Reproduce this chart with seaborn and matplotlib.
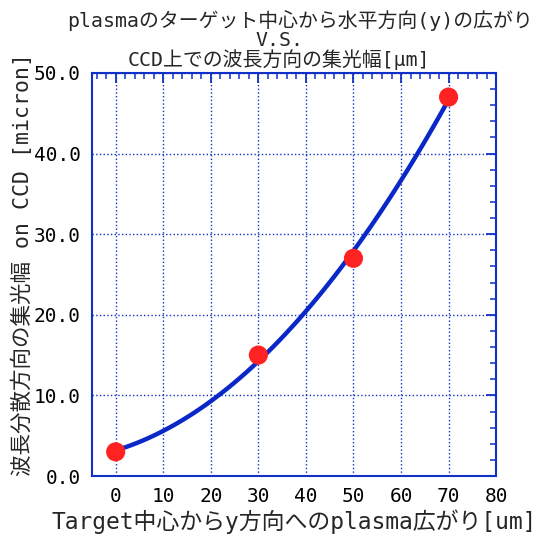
import matplotlib
matplotlib.use("Agg")
import matplotlib.pyplot as plt
import numpy as np
import pandas as pd
import seaborn as sns
from matplotlib.ticker import MultipleLocator

# plasma spread (um) vs. focused width on CCD (micron)
spread_um = [0, 30, 50, 70]
width_micron = [3.0, 15.0, 27.0, 47.0]

title_lines = ["plasmaのターゲット中心から水平方向(y)の広がり",
               "V.S.",
               "CCD上での波長方向の集光幅[μm]"]

df = pd.DataFrame({"spread": spread_um, "width": width_micron})

sns.set_style("white")
# mono latin + japanese gothic fallback, like the original MS Gothic look
plt.rcParams['font.family'] = ['DejaVu Sans Mono', 'Noto Sans CJK JP']

blue = '#1030c8'
fig = plt.figure(figsize=(5.47, 5.40), dpi=100)
ax = fig.add_axes([0.168, 0.1185, 0.739, 0.7465])

sns.regplot(data=df, x="spread", y="width", order=2, ci=None, scatter=False,
            line_kws={"color": "#0a28c8", "lw": 3.2}, ax=ax)
sns.scatterplot(data=df, x="spread", y="width", color='#ff2222', s=190,
                edgecolor='none', zorder=5, ax=ax)

ax.set_xlim(-5, 80)
ax.set_ylim(0, 50)
ax.xaxis.set_major_locator(MultipleLocator(10))
ax.xaxis.set_minor_locator(MultipleLocator(2))
ax.yaxis.set_major_locator(MultipleLocator(10))
ax.yaxis.set_minor_locator(MultipleLocator(2))
ax.set_yticklabels([f"{v:.1f}" for v in ax.get_yticks()])
ax.grid(True, which='major', color=blue, ls=':', lw=1.0)

for s in ax.spines.values():
    s.set_visible(True)
    s.set_color(blue)
    s.set_linewidth(1.5)
ax.tick_params(which='both', direction='in', top=True, right=True,
               color=blue, labelsize=14, labelcolor='black')
ax.tick_params(which='major', length=7, width=1.3, pad=8)
ax.tick_params(which='minor', length=4, width=1.1)

ax.set_xlabel("Target中心からy方向へのplasma広がり[um]", fontsize=16.5, labelpad=2)
ax.set_ylabel("波長分散方向の集光幅 on CCD [micron]", fontsize=15.5)
ax.yaxis.set_label_coords(-0.145, 0.525)

# three title lines, placed one by one (line 1 sits a bit right of the others)
fig.text(300 / 547, 1 - 21 / 540, title_lines[0], fontsize=14.3, ha='center', va='center')
fig.text(279 / 547, 1 - 40 / 540, title_lines[1], fontsize=14.3, ha='center', va='center')
fig.text(279 / 547, 1 - 60 / 540, title_lines[2], fontsize=14.3, ha='center', va='center')

fig.savefig("out.png", dpi=100)
